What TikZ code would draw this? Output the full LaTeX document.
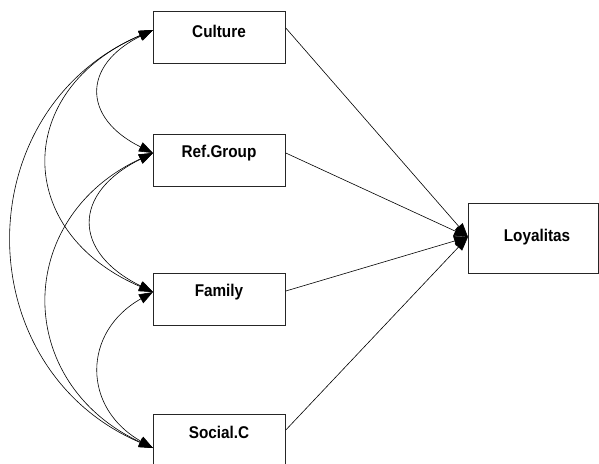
\documentclass[tikz,border=0pt]{standalone}
\usepackage{fontspec}
\setmainfont{Liberation Sans}
\newfontfamily\labelfont[FakeStretch=0.9]{Liberation Sans}
\usetikzlibrary{arrows.meta}
\begin{document}
\begin{tikzpicture}[x=1pt,y=-1pt,
  var/.style={draw=black!85, line width=0.8pt, minimum width=132pt, minimum height=52pt, inner sep=0pt, anchor=north west},
  vartext/.style={font=\labelfont\bfseries\fontsize{17}{20}\selectfont, inner sep=0pt},
  path/.style={line width=0.6pt, -{Triangle[length=14pt,width=10pt]}},
  cov/.style={line width=0.6pt, {Triangle[length=14pt,width=10pt]}-{Triangle[length=14pt,width=10pt]}}]
\useasboundingbox (0,0) rectangle (599,463);
\clip (0,0) rectangle (599,463);

% observed variables
\node[var] (cul) at (153,11) {};
\node[var] (ref) at (153,134) {};
\node[var] (fam) at (153,273) {};
\node[var] (soc) at (153,414) {};
\node[var, minimum width=130pt, minimum height=70pt] (loy) at (468,203) {};

\node[vartext] (culT) at (219,31) {Culture};
\node[vartext] (refT) at (219,153) {Ref.Group};
\node[vartext] (famT) at (219,292) {Family};
\node[vartext] (socT) at (219,432) {Social.C};
\node[vartext] (loyT) at (537,237) {Loyalitas};

% attachment points on the box edges
\coordinate (culL) at ([yshift=-19pt]cul.north west);
\coordinate (refL) at ([yshift=-19pt]ref.north west);
\coordinate (famL) at ([yshift=-19pt]fam.north west);
\coordinate (socL) at ([yshift=-34pt]soc.north west);
\coordinate (culR) at ([yshift=-17pt]cul.north east);
\coordinate (refR) at ([yshift=-19pt]ref.north east);
\coordinate (famR) at ([yshift=-18pt]fam.north east);
\coordinate (socR) at ([yshift=-16pt]soc.north east);
\coordinate (loyL) at ([yshift=-34pt]loy.north west);

% regression paths
\draw[path] (culR) -- (loyL);
\draw[path] (refR) -- (loyL);
\draw[path] (famR) -- (loyL);
\draw[path] (socR) -- (loyL);

% covariances
\draw[cov] (culL) .. controls +(-71,35) and +(-71,-35) .. (refL);
\draw[cov] (refL) .. controls +(-81,40) and +(-81,-40) .. (famL);
\draw[cov] (famL) .. controls +(-71,40) and +(-71,-40) .. (socL);
\draw[cov] (culL) .. controls +(-140,60) and +(-140,-60) .. (famL);
\draw[cov] (refL) .. controls +(-140,65) and +(-140,-65) .. (socL);
\draw[cov] (culL) .. controls +(-187,80) and +(-187,-80) .. (socL);
\end{tikzpicture}
\end{document}
